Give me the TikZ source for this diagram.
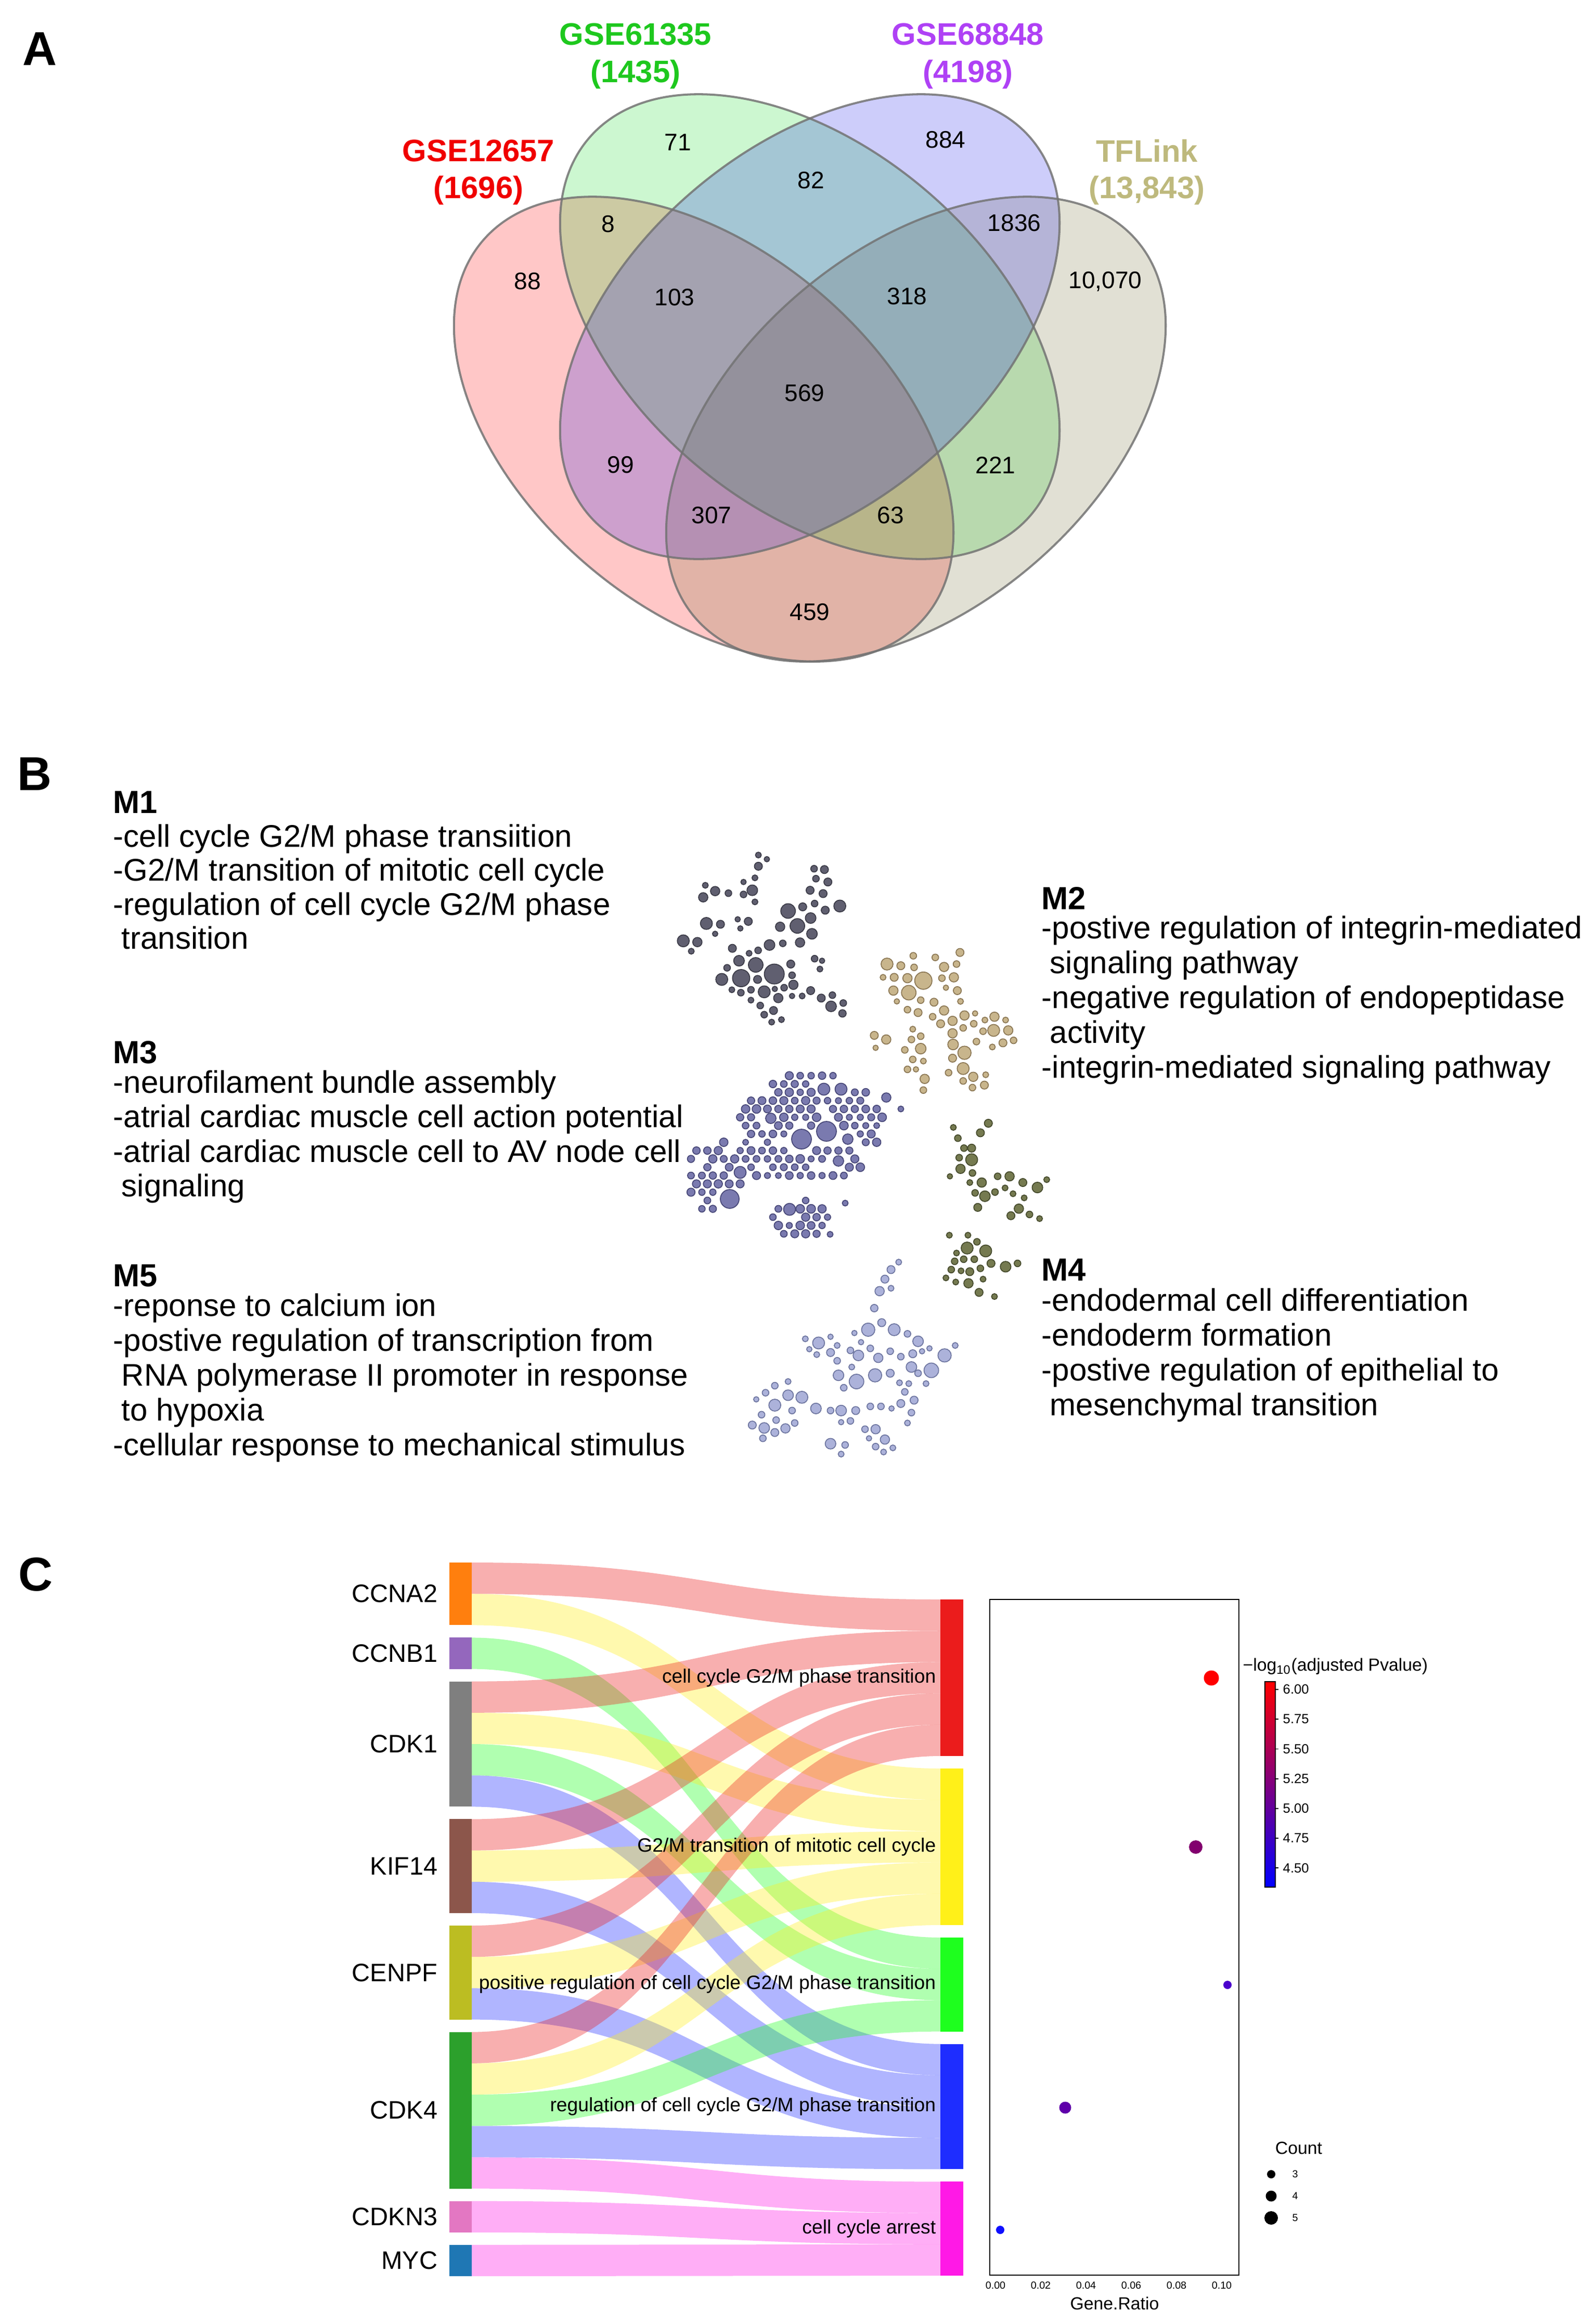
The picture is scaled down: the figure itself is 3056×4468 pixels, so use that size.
\documentclass[tikz,border=0pt]{standalone}
\usepackage{fontspec}
\setmainfont{Liberation Sans}
\definecolor{vred}{RGB}{255,0,0}
\definecolor{vgreen}{RGB}{0,215,20}
\definecolor{vblue}{RGB}{5,5,230}
\definecolor{volive}{RGB}{105,100,40}
\definecolor{vgray}{RGB}{115,115,115}
\definecolor{lred}{RGB}{240,0,0}
\definecolor{lgreen}{RGB}{30,200,30}
\definecolor{lpurple}{RGB}{175,65,245}
\definecolor{lkhaki}{RGB}{190,185,125}
\definecolor{m1f}{RGB}{96,95,112}\definecolor{m1d}{RGB}{60,60,72}
\definecolor{m2f}{RGB}{200,181,140}\definecolor{m2d}{RGB}{140,120,85}
\definecolor{m3f}{RGB}{122,122,175}\definecolor{m3d}{RGB}{72,72,120}
\definecolor{m4f}{RGB}{117,122,80}\definecolor{m4d}{RGB}{70,75,45}
\definecolor{m5f}{RGB}{172,178,218}\definecolor{m5d}{RGB}{110,118,160}
\definecolor{tred}{RGB}{235,28,28}
\definecolor{tyel}{RGB}{255,240,25}
\definecolor{tgrn}{RGB}{30,255,30}
\definecolor{tblu}{RGB}{30,45,255}
\definecolor{tmag}{RGB}{255,25,230}
\definecolor{gorange}{RGB}{255,127,14}
\definecolor{gpurple}{RGB}{148,103,189}
\definecolor{ggray}{RGB}{127,127,127}
\definecolor{gbrown}{RGB}{140,86,75}
\definecolor{golive}{RGB}{188,189,34}
\definecolor{ggreen}{RGB}{44,160,44}
\definecolor{gpink}{RGB}{227,119,194}
\definecolor{gblue}{RGB}{31,119,180}
\definecolor{cbmid}{RGB}{128,0,128}
\definecolor{dA}{RGB}{255,0,0}
\definecolor{dB}{RGB}{130,0,110}
\definecolor{dC}{RGB}{75,0,205}
\definecolor{dD}{RGB}{95,0,170}
\definecolor{dE}{RGB}{15,15,255}
\newcommand\sklink[3]{\fill[#3,fill opacity=0.35] (907,#1) .. controls (1357.5,#1) and (1357.5,#2) .. (1808,#2) -- (1808,{#2+60.2}) .. controls (1357.5,{#2+60.2}) and (1357.5,{#1+60.2}) .. (907,{#1+60.2}) -- cycle;}
\begin{document}
\begin{tikzpicture}[x=0.01cm,y=-0.01cm,
  plabel/.style={font=\bfseries\fontsize{26}{30}\selectfont, inner sep=0},
  vnum/.style={font=\fontsize{13.1}{15}\selectfont, inner sep=0},
  vlab/.style={font=\bfseries\fontsize{17}{19}\selectfont, inner sep=0},
  vline/.style={draw=vgray, line width=1.15pt, draw opacity=0.85},
  btxt/.style={font=\fontsize{17.1}{20}\selectfont, anchor=base west, inner sep=0},
  bhead/.style={font=\bfseries\fontsize{17.5}{20}\selectfont, anchor=base west, inner sep=0},
  glab/.style={font=\fontsize{13.8}{16}\selectfont, anchor=east, inner sep=0},
  tlab/.style={font=\fontsize{10.6}{12}\selectfont, anchor=east, inner sep=0},
  tinylab/.style={font=\fontsize{5.6}{6.5}\selectfont, inner sep=0},
  cblab/.style={font=\fontsize{7.3}{8.5}\selectfont, inner sep=0, anchor=west},
  axlab/.style={font=\fontsize{9.6}{11}\selectfont, inner sep=0},
  m1c/.style={fill=m1f, draw=m1d, line width=0.5pt},
  m2c/.style={fill=m2f, draw=m2d, line width=0.5pt},
  m3c/.style={fill=m3f, draw=m3d, line width=0.5pt},
  m4c/.style={fill=m4f, draw=m4d, line width=0.5pt},
  m5c/.style={fill=m5f, draw=m5d, line width=0.5pt}]
\useasboundingbox (0,0) rectangle (3056,4468);
\fill[white] (0,0) rectangle (3056,4468);

% panel labels
\node[plabel] (labA) at (77,94) {A};
\node[plabel] (labB) at (67,1488) {B};
\node[plabel] (labC) at (69,3027) {C};

% ================= Venn =================
\fill[vred, fill opacity=0.22, rotate around={-40.4:(1353,825)}] (1353,825) ellipse [x radius=5.58cm, y radius=3.44cm];
\fill[vgreen, fill opacity=0.20, rotate around={-40.4:(1557,628)}] (1557,628) ellipse [x radius=5.58cm, y radius=3.44cm];
\fill[volive, fill opacity=0.20, rotate around={40.4:(1761,825)}] (1761,825) ellipse [x radius=5.58cm, y radius=3.44cm];
\fill[vblue, fill opacity=0.20, rotate around={40.4:(1557,628)}] (1557,628) ellipse [x radius=5.58cm, y radius=3.44cm];
\draw[vline, rotate around={-40.4:(1353,825)}] (1353,825) ellipse [x radius=5.58cm, y radius=3.44cm];
\draw[vline, rotate around={-40.4:(1557,628)}] (1557,628) ellipse [x radius=5.58cm, y radius=3.44cm];
\draw[vline, rotate around={40.4:(1557,628)}] (1557,628) ellipse [x radius=5.58cm, y radius=3.44cm];
\draw[vline, rotate around={40.4:(1761,825)}] (1761,825) ellipse [x radius=5.58cm, y radius=3.44cm];

\node[vlab, text=lred] (s1a) at (920,290) {GSE12657};
\node[vlab, text=lred] (s1b) at (920,366) {(1696)};
\node[vlab, text=lgreen] (s2a) at (1222,66) {GSE61335};
\node[vlab, text=lgreen] (s2b) at (1222,143) {(1435)};
\node[vlab, text=lpurple] (s3a) at (1861,66) {GSE68848};
\node[vlab, text=lpurple] (s3b) at (1861,143) {(4198)};
\node[vlab, text=lkhaki] (s4a) at (2205,290) {TFLink};
\node[vlab, text=lkhaki] (s4b) at (2205,366) {(13,843)};

\node[vnum] (n71) at (1303,274) {71};
\node[vnum] (n884) at (1818,269) {884};
\node[vnum] (n82) at (1559,347) {82};
\node[vnum] (n8) at (1169,431) {8};
\node[vnum] (n1836) at (1950,429) {1836};
\node[vnum] (n88) at (1014,541) {88};
\node[vnum] (n103) at (1297,572) {103};
\node[vnum] (n318) at (1744,570) {318};
\node[vnum] (n10070) at (2125,541) {10,070};
\node[vnum] (n569) at (1547,756) {569};
\node[vnum] (n99) at (1193,894) {99};
\node[vnum] (n221) at (1914,894) {221};
\node[vnum] (n307) at (1368,991) {307};
\node[vnum] (n63) at (1712,991) {63};
\node[vnum] (n459) at (1557,1177) {459};

% ================= Panel B text =================
\node[bhead] (m1h) at (217,1563) {M1};
\node[btxt] (m1a) at (217,1628) {-cell cycle G2/M phase transiition};
\node[btxt] (m1b) at (217,1693.5) {-G2/M transition of mitotic cell cycle};
\node[btxt] (m1c) at (217,1759) {-regulation of cell cycle G2/M phase};
\node[btxt] (m1d) at (233,1824.5) {transition};

\node[bhead] (m3h) at (217,2044) {M3};
\node[btxt] (m3a) at (217,2101) {-neurofilament bundle assembly};
\node[btxt] (m3b) at (217,2167.5) {-atrial cardiac muscle cell action potential};
\node[btxt] (m3c) at (217,2234) {-atrial cardiac muscle cell to AV node cell};
\node[btxt] (m3d) at (233,2300.5) {signaling};

\node[bhead] (m5h) at (217,2473) {M5};
\node[btxt] (m5a) at (217,2530) {-reponse to calcium ion};
\node[btxt] (m5b) at (217,2597) {-postive regulation of transcription from};
\node[btxt] (m5c) at (233,2664) {RNA polymerase II promoter in response};
\node[btxt] (m5d) at (233,2731) {to hypoxia};
\node[btxt] (m5e) at (217,2798) {-cellular response to mechanical stimulus};

\node[bhead] (m2h) at (2002,1748) {M2};
\node[btxt] (m2a) at (2002,1804) {-postive regulation of integrin-mediated};
\node[btxt] (m2b) at (2018,1871) {signaling pathway};
\node[btxt] (m2c) at (2002,1938) {-negative regulation of endopeptidase};
\node[btxt] (m2d) at (2018,2005) {activity};
\node[btxt] (m2e) at (2002,2072) {-integrin-mediated signaling pathway};

\node[bhead] (m4h) at (2002,2462) {M4};
\node[btxt] (m4a) at (2002,2520) {-endodermal cell differentiation};
\node[btxt] (m4b) at (2002,2587) {-endoderm formation};
\node[btxt] (m4c) at (2002,2654) {-postive regulation of epithelial to};
\node[btxt] (m4d) at (2018,2721) {mesenchymal transition};

% ================= Panel B networks =================
% M1
\foreach \x/\y/\d in {408/55/22, 440/65/20, 408/82/30, 395/110/22, 352/120/20, 385/140/40, 352/150/25, 395/168/22, 295/147/25, 245/142/35, 200/157/35, 208/128/22,
618/88/25, 657/90/30, 625/112/25, 670/120/30, 603/140/30, 652/148/30, 575/180/30, 620/172/25, 660/188/30, 715/178/45,
520/190/55, 490/228/35, 555/226/55, 605/207/40, 610/245/40, 565/266/35,
212/220/45, 265/222/30, 245/245/20, 330/210/20, 370/215/30, 340/232/20,
125/262/45, 178/265/35, 155/287/22,
310/280/30, 373/292/22, 407/285/25, 450/272/40, 500/268/25,
335/310/40, 398/320/55, 468/342/75, 530/318/30, 620/305/25, 648/310/20, 640/330/22,
270/355/45, 343/352/65, 405/355/30, 290/327/25, 535/345/25,
540/368/35, 505/375/25, 605/382/30, 687/393/25, 728/412/25,
308/380/22, 342/387/25, 380/380/25, 430/385/45, 470/378/20,
380/405/22, 415/418/25, 483/400/35, 535/395/20, 573/395/22,
682/420/40, 725/437/28, 645/400/30,
430/440/25, 465/430/30, 495/452/22, 458/458/22}
  \filldraw[m1c] ({1250+0.51*\x},{1600+0.797*\y}) circle[radius={0.255*\d}];
% M2
\foreach \x/\y/\d in {893/318/45, 945/322/30, 992/298/25, 995/326/25, 878/350/22,
920/350/30, 970/352/35, 1030/358/65, 1075/302/25, 1108/325/35, 1168/290/30, 1155/318/25, 1100/352/25, 1145/350/35,
917/382/35, 975/387/55, 1020/405/25, 1070/410/30, 1115/375/20, 1158/382/30,
930/408/20, 970/428/25, 1010/435/30, 1108/430/35, 1170/408/22,
1065/445/25, 1095/462/30, 1140/455/35, 1185/442/35, 1225/437/20, 1262/453/22, 1298/445/35, 1340/453/22,
845/490/30, 890/500/35, 850/520/20,
990/475/22, 985/500/25, 1020/492/25, 960/525/25, 1020/522/40, 990/548/25, 1030/552/22,
1140/485/35, 1180/472/25, 1220/462/25, 1255/480/25, 1295/478/45, 1350/478/35, 1330/508/30, 1370/502/25,
1142/512/40, 1185/532/50, 1230/505/25, 1290/518/22,
1140/545/30, 970/572/25, 1002/572/20, 1035/595/35, 1030/622/25,
1125/580/25, 1180/570/45, 1218/590/35, 1265/585/22, 1180/600/25, 1215/616/25, 1260/610/30}
  \filldraw[m2c] ({1250+0.51*\x},{1600+0.797*\y}) circle[radius={0.255*\d}];
% M3 (hexagonal packing inside lobes)
\pgfmathsetseed{11}
\foreach \row in {0,...,21}{
  \foreach \col in {0,...,19}{
    \pgfmathsetmacro\px{1318+\col*21+mod(\row,2)*10.5}
    \pgfmathsetmacro\py{2052+\row*16}
    \pgfmathtruncatemacro\inA{((((\px-1560)/140)*((\px-1560)/140)+((\py-2166)/108)*((\py-2166)/108))<1) || ((((\px-1377)/58)*((\px-1377)/58)+((\py-2262)/72)*((\py-2262)/72))<1) || ((((\px-1454)/45)*((\px-1454)/45)+((\py-2230)/40)*((\py-2230)/40))<1) || ((((\px-1541)/60)*((\px-1541)/60)+((\py-2345)/42)*((\py-2345)/42))<1)}
    \pgfmathtruncatemacro\exA{((((\px-1541)/28)*((\px-1541)/28)+((\py-2190)/28)*((\py-2190)/28))<1) || ((((\px-1589)/28)*((\px-1589)/28)+((\py-2175)/28)*((\py-2175)/28))<1) || ((((\px-1403)/27)*((\px-1403)/27)+((\py-2305)/27)*((\py-2305)/27))<1) || ((((\px-1482)/19)*((\px-1482)/19)+((\py-2150)/19)*((\py-2150)/19))<1) || ((((\px-1584)/20)*((\px-1584)/20)+((\py-2094)/20)*((\py-2094)/20))<1) || ((((\px-1617)/20)*((\px-1617)/20)+((\py-2094)/20)*((\py-2094)/20))<1) || ((((\px-1630)/19)*((\px-1630)/19)+((\py-2190)/19)*((\py-2190)/19))<1) || ((((\px-1612)/19)*((\px-1612)/19)+((\py-2232)/19)*((\py-2232)/19))<1) || ((((\px-1423)/20)*((\px-1423)/20)+((\py-2254)/20)*((\py-2254)/20))<1) || ((((\px-1518)/20)*((\px-1518)/20)+((\py-2325)/20)*((\py-2325)/20))<1)}
    \pgfmathsetmacro\rr{5.6+2.8*rnd}
    \pgfmathtruncatemacro\skp{rnd<0.07}
    \ifnum\inA=1 \ifnum\exA=0 \ifnum\skp=0
      \filldraw[m3c] (\px,\py) circle[radius=\rr];
    \fi\fi\fi
  }
}
\foreach \x/\y/\r in {1541/2190/19, 1589/2175/19, 1403/2305/18, 1482/2150/10, 1584/2094/11.5, 1617/2094/11.5, 1630/2190/10, 1612/2232/10, 1423/2254/11.5, 1518/2325/11.5, 1704/2110/8.9, 1732/2132/5.6, 1625/2313/5.6, 1596/2373/5.6}
  \filldraw[m3c] (\x,\y) circle[radius=\r];
% M4
\foreach \x/\y/\d in {1275/702/30, 1245/725/30, 1143/712/22, 1160/738/25, 1212/762/30, 1183/762/25, 1212/790/45, 1165/785/25, 1170/812/35, 1215/822/25, 1250/845/35, 1130/830/20, 1205/845/22, 1310/830/25, 1355/830/35, 1405/845/30, 1460/857/40, 1495/838/22, 1225/870/25, 1262/878/40, 1300/868/25, 1338/858/22, 1368/872/22, 1410/882/22, 1235/905/30, 1390/908/35, 1360/925/30, 1430/922/25, 1468/932/22,
1128/972/22, 1198/972/22, 1232/988/25, 1265/1010/45, 1195/1003/45, 1155/1015/22, 1222/1030/25, 1148/1035/25, 1182/1030/25, 1285/1040/30, 1340/1048/40, 1385/1040/25, 1245/1052/25, 1135/1055/25, 1172/1058/22, 1205/1060/30, 1115/1075/22, 1152/1085/22, 1200/1088/35, 1255/1078/22, 1240/1110/30, 1298/1120/22}
  \filldraw[m4c] ({1250+0.51*\x},{1600+0.797*\y}) circle[radius={0.255*\d}];
% M5
\foreach \x/\y/\d in {937/1037/22, 908/1055/30, 885/1078/30, 908/1100/22, 865/1107/35, 845/1148/28,
822/1200/50, 873/1183/30, 920/1200/45, 970/1210/25, 1010/1228/40, 770/1208/20, 795/1230/20,
585/1222/22, 635/1232/45, 680/1217/20, 600/1247/20, 628/1260/22, 680/1255/30, 705/1238/22,
755/1250/25, 785/1262/40, 830/1245/25, 860/1268/35, 905/1252/25, 945/1265/25, 990/1258/30, 1025/1252/20, 1053/1245/20, 1110/1262/50, 1150/1238/22,
705/1275/25, 760/1290/22, 985/1290/40, 1060/1298/55,
710/1310/40, 778/1325/55, 848/1310/50, 905/1305/30, 1010/1305/25, 1040/1330/22,
730/1340/25, 940/1328/22, 975/1330/22, 960/1350/25, 995/1370/30, 945/1378/30, 985/1400/25, 970/1425/22,
470/1335/25, 520/1325/22, 435/1352/25, 520/1358/40, 572/1363/45, 400/1368/20, 470/1382/45, 535/1395/25,
625/1390/40, 680/1395/25, 720/1395/40, 775/1395/30, 830/1385/25, 870/1385/25, 910/1390/20,
385/1430/30, 420/1405/25, 430/1437/40, 475/1418/25, 510/1438/35, 470/1448/30, 545/1425/25, 425/1462/25,
755/1420/25, 720/1423/20,
810/1440/25, 850/1440/35, 885/1465/35, 825/1462/20, 850/1482/25, 880/1495/22, 915/1485/22,
680/1475/40, 735/1478/25, 720/1500/22}
  \filldraw[m5c] ({1250+0.51*\x},{1600+0.797*\y}) circle[radius={0.255*\d}];

% ================= Panel C: Sankey =================
\sklink{3004}{3075}{tred}
\sklink{3064.2}{3400}{tyel}
\sklink{3148.4}{3725}{tgrn}
\sklink{3232.6}{3135.2}{tred}
\sklink{3292.8}{3460.2}{tyel}
\sklink{3353}{3785.2}{tgrn}
\sklink{3413.2}{3929.6}{tblu}
\sklink{3497.4}{3195.4}{tred}
\sklink{3557.6}{3520.4}{tyel}
\sklink{3617.8}{3989.8}{tblu}
\sklink{3702}{3255.6}{tred}
\sklink{3762.2}{3580.6}{tyel}
\sklink{3822.4}{4050}{tblu}
\sklink{3906.6}{3315.8}{tred}
\sklink{3966.8}{3640.8}{tyel}
\sklink{4027}{3845.4}{tgrn}
\sklink{4087.2}{4110.2}{tblu}
\sklink{4147.4}{4194.4}{tmag}
\sklink{4231.6}{4254.6}{tmag}
\sklink{4315.8}{4314.8}{tmag}

% gene bars
\fill[gorange] (864,3004) rectangle (907,3124.4);
\fill[gpurple] (864,3148.4) rectangle (907,3208.6);
\fill[ggray] (864,3232.6) rectangle (907,3473.4);
\fill[gbrown] (864,3497.4) rectangle (907,3678);
\fill[golive] (864,3702) rectangle (907,3882.6);
\fill[ggreen] (864,3906.6) rectangle (907,4207.6);
\fill[gpink] (864,4231.6) rectangle (907,4291.8);
\fill[gblue] (864,4315.8) rectangle (907,4376);
% term bars
\fill[tred] (1808,3075) rectangle (1852,3376);
\fill[tyel] (1808,3400) rectangle (1852,3701);
\fill[tgrn] (1808,3725) rectangle (1852,3905.6);
\fill[tblu] (1808,3929.6) rectangle (1852,4170.4);
\fill[tmag] (1808,4194.4) rectangle (1852,4375);

\node[glab] (gCCNA2) at (842,3064.2) {CCNA2};
\node[glab] (gCCNB1) at (842,3178.5) {CCNB1};
\node[glab] (gCDK1) at (842,3353) {CDK1};
\node[glab] (gKIF14) at (842,3587.7) {KIF14};
\node[glab] (gCENPF) at (842,3792.3) {CENPF};
\node[glab] (gCDK4) at (842,4057.1) {CDK4};
\node[glab] (gCDKN3) at (842,4261.7) {CDKN3};
\node[glab] (gMYC) at (842,4345.9) {MYC};

\node[tlab] (t1) at (1800,3226) {cell cycle G2/M phase transition};
\node[tlab] (t2) at (1800,3551) {G2/M transition of mitotic cell cycle};
\node[tlab] (t3) at (1800,3815) {positive regulation of cell cycle G2/M phase transition};
\node[tlab] (t4) at (1800,4050) {regulation of cell cycle G2/M phase transition};
\node[tlab] (t5) at (1800,4285) {cell cycle arrest};

% ================= Dot plot =================
\draw[line width=0.6pt] (1903,3075) rectangle (2382,4374);
\foreach \v [count=\i from 0] in {0.00,0.02,0.04,0.06,0.08,0.10}
  \node[tinylab] (xt\i) at ({1914+87*\i},4394) {\v};
\node[axlab] (xlab) at (2143,4428) {Gene.Ratio};
\fill[dA] (2329,3226) circle[radius=14.5];
\fill[dB] (2299,3551) circle[radius=13];
\fill[dC] (2360,3816) circle[radius=8];
\fill[dD] (2048,4052) circle[radius=11.5];
\fill[dE] (1923,4287) circle[radius=8];

% colour bar
\shade[top color=red, bottom color=blue, middle color=cbmid] (2432,3233) rectangle (2452,3628);
\draw[line width=0.5pt] (2432,3233) rectangle (2452,3628);
\foreach \v/\yy [count=\i] in {6.00/3248, 5.75/3305.2, 5.50/3362.4, 5.25/3419.6, 5.00/3476.8, 4.75/3534, 4.50/3591.2}{
  \draw[line width=0.5pt] (2452,\yy) -- (2458,\yy);
  \node[cblab] (cb\i) at (2466,\yy) {\v};
}
\node[axlab, anchor=west] (cbt) at (2389,3204) {−log\textsubscript{10}(adjusted Pvalue)};

% size legend
\node[axlab] (cnt) at (2497,4130) {Count};
\fill[black] (2444,4180) circle[radius=8];
\fill[black] (2444,4222) circle[radius=10.5];
\fill[black] (2444,4264) circle[radius=13];
\node[tinylab] (c3) at (2490,4180) {3};
\node[tinylab] (c4) at (2490,4222) {4};
\node[tinylab] (c5) at (2490,4264) {5};
\end{tikzpicture}
\end{document}
